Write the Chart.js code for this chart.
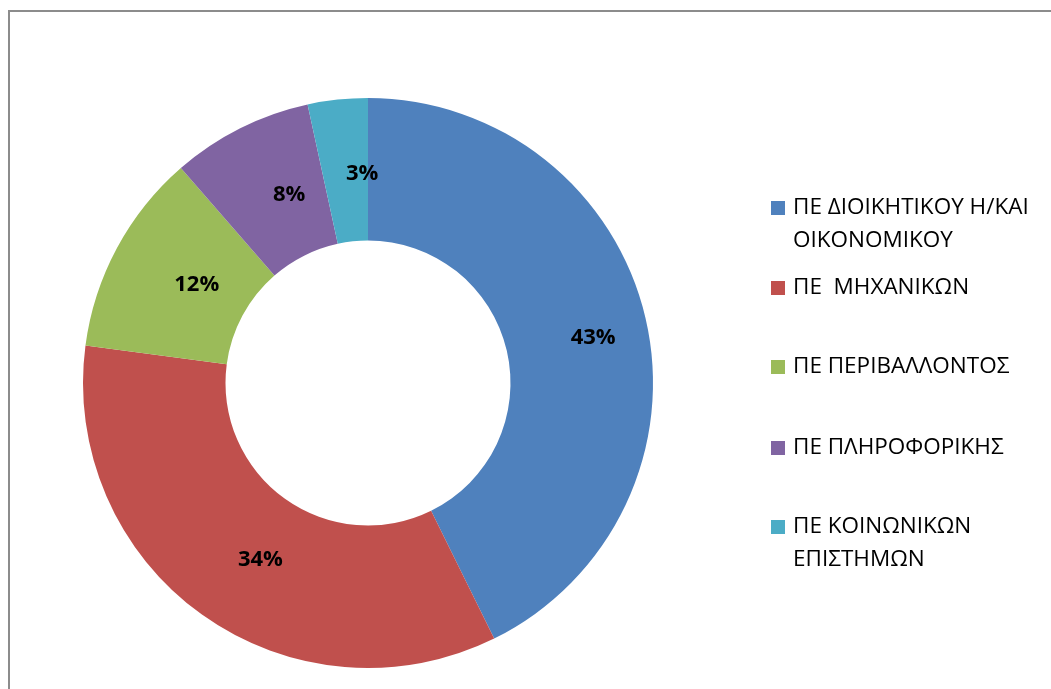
<!DOCTYPE html>
<html>
<head>
<meta charset="utf-8">
<script src="https://cdn.jsdelivr.net/npm/chart.js@4"></script>
<style>
  html, body { margin: 0; padding: 0; background: #fff; }
  #wrap { width: 1051px; height: 689px; position: relative; }
</style>
</head>
<body>
<div id="wrap"><canvas id="pie_chart"></canvas></div>
<script>
  // categories, each split in the lines the legend shows
  const CATEGORIES = [
    ['ΠΕ ΔΙΟΙΚΗΤΙΚΟΥ Η/ΚΑΙ', 'ΟΙΚΟΝΟΜΙΚΟΥ'],
    ['ΠΕ  ΜΗΧΑΝΙΚΩΝ'],
    ['ΠΕ ΠΕΡΙΒΑΛΛΟΝΤΟΣ'],
    ['ΠΕ ΠΛΗΡΟΦΟΡΙΚΗΣ'],
    ['ΠΕ ΚΟΙΝΩΝΙΚΩΝ', 'ΕΠΙΣΤΗΜΩΝ']
  ];
  const SHARES = [42.7, 34.4, 11.5, 8.0, 3.4];
  const COLORS = ['#4F81BD', '#C0504D', '#9BBB59', '#8064A2', '#4BACC6'];

  const LEGEND_ROWS_Y = [208, 288, 367, 448, 527];

  const labelsPlugin = {
    id: 'labels',
    afterDatasetsDraw(chart) {
      const ctx = chart.ctx;
      const meta = chart.getDatasetMeta(0);
      const total = SHARES.reduce((a, b) => a + b, 0);
      ctx.save();
      ctx.font = 'bold 22px "Open Sans"';
      ctx.fillStyle = '#000';
      ctx.textAlign = 'center';
      ctx.textBaseline = 'middle';
      meta.data.forEach((arc, i) => {
        const p = arc.tooltipPosition();
        ctx.fillText(Math.round(SHARES[i] / total * 100) + '%', p.x + 17, p.y + 3);
      });
      ctx.restore();
    },
    afterDraw(chart) {
      const ctx = chart.ctx;
      ctx.save();
      // frame
      ctx.strokeStyle = '#8c8c8c';
      ctx.lineWidth = 2;
      ctx.beginPath();
      ctx.moveTo(9, 689);
      ctx.lineTo(9, 11);
      ctx.lineTo(1051, 11);
      ctx.stroke();
      // legend
      ctx.font = '22.5px "Open Sans"';
      ctx.textBaseline = 'middle';
      ctx.textAlign = 'left';
      CATEGORIES.forEach((lines, i) => {
        const y = LEGEND_ROWS_Y[i];
        ctx.fillStyle = COLORS[i];
        ctx.fillRect(771, y - 7, 14, 14);
        ctx.fillStyle = '#000';
        lines.forEach((t, j) => ctx.fillText(t, 793, y + j * 33));
      });
      ctx.restore();
    }
  };

  new Chart(document.getElementById('pie_chart'), {
    type: 'doughnut',
    data: {
      labels: CATEGORIES.map(l => l.join(' ')),
      datasets: [{
        data: SHARES,
        backgroundColor: COLORS,
        borderWidth: 0
      }]
    },
    options: {
      responsive: true,
      maintainAspectRatio: false,
      animation: false,
      cutout: '50%',
      layout: { padding: { left: 83, right: 398, top: 98, bottom: 21 } },
      plugins: {
        legend: { display: false },
        tooltip: { enabled: false }
      }
    },
    plugins: [labelsPlugin]
  });
</script>
</body>
</html>
